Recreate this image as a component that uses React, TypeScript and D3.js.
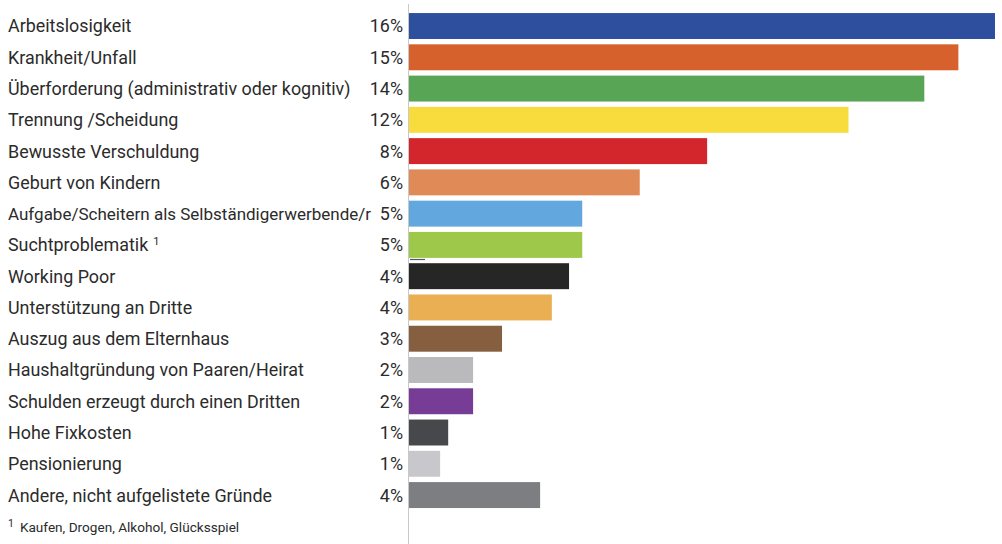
import React from 'react';
import * as d3 from 'd3';

const categories = [
  'Arbeitslosigkeit',
  'Krankheit/Unfall',
  'Überforderung (administrativ oder kognitiv)',
  'Trennung /Scheidung',
  'Bewusste Verschuldung',
  'Geburt von Kindern',
  'Aufgabe/Scheitern als Selbständigerwerbende/r',
  'Suchtproblematik',
  'Working Poor',
  'Unterstützung an Dritte',
  'Auszug aus dem Elternhaus',
  'Haushaltgründung von Paaren/Heirat',
  'Schulden erzeugt durch einen Dritten',
  'Hohe Fixkosten',
  'Pensionierung',
  'Andere, nicht aufgelistete Gründe',
];

// exact shares; labels are the printed rounded values
const values = [16.0, 15.0, 14.07, 12.0, 8.14, 6.3, 4.73, 4.73, 4.37, 3.9, 2.54, 1.75, 1.75, 1.07, 0.85, 3.58];
const valueLabels = ['16%', '15%', '14%', '12%', '8%', '6%', '5%', '5%', '4%', '4%', '3%', '2%', '2%', '1%', '1%', '4%'];
const colors = [
  '#2E4F9E', '#D6612D', '#57A555', '#F8DC3E', '#D2262C', '#DF8A57', '#62A8DE', '#9DC84A',
  '#262626', '#EAAF52', '#855F40', '#BABABD', '#763C96', '#47484B', '#C8C8CC', '#7D7E82',
];
const footnoteIndex = 7;
const footnote = 'Kaufen, Drogen, Alkohol, Glücksspiel';

const W = 1002;
const H = 544;
const axisX = 409;
const longLabel = 6; // set a bit smaller so it ends before its value

export default function App() {
  const x = d3.scaleLinear().domain([0, 16.0]).range([axisX, 995]);
  const y = d3.scaleBand<string>()
    .domain(categories)
    .range([10.4, 510.7])
    .paddingInner(0.17)
    .paddingOuter(0.085);

  const font = 'Roboto, sans-serif';

  return (
    <svg width={W} height={H} style={{ position: 'absolute', left: 0, top: 0, background: '#fff' }}>
      <line x1={axisX - 0.5} x2={axisX - 0.5} y1={4} y2={H} stroke="#c8c8c8" strokeWidth={1} />
      {categories.map((c, i) => {
        const yc = (y(c) ?? 0) + y.bandwidth() / 2;
        return (
          <g key={c}>
            <rect x={axisX} y={y(c)} width={x(values[i]) - axisX} height={y.bandwidth()} fill={colors[i]} />
            <text x={8} y={yc} dy="0.36em" fontFamily={font} fontSize={i === longLabel ? 17 : 17.9} fill="#2b2b2b">
              {c}
              {i === footnoteIndex && (
                <tspan dx={5} dy="-0.55em" fontSize={11}>1</tspan>
              )}
            </text>
            <text x={403} y={yc} dy="0.36em" textAnchor="end" fontFamily={font} fontSize={17.9} fill="#2b2b2b">
              {valueLabels[i]}
            </text>
          </g>
        );
      })}
      <line x1={410} x2={425} y1={259.5} y2={259.5} stroke="#555" strokeWidth={1.2} />
      <text x={8} y={532} fontFamily={font} fontSize={13.6} fill="#2b2b2b">
        <tspan fontSize={10.5} dy={-5}>1</tspan>
        <tspan dx={6} dy={5}>{footnote}</tspan>
      </text>
    </svg>
  );
}
